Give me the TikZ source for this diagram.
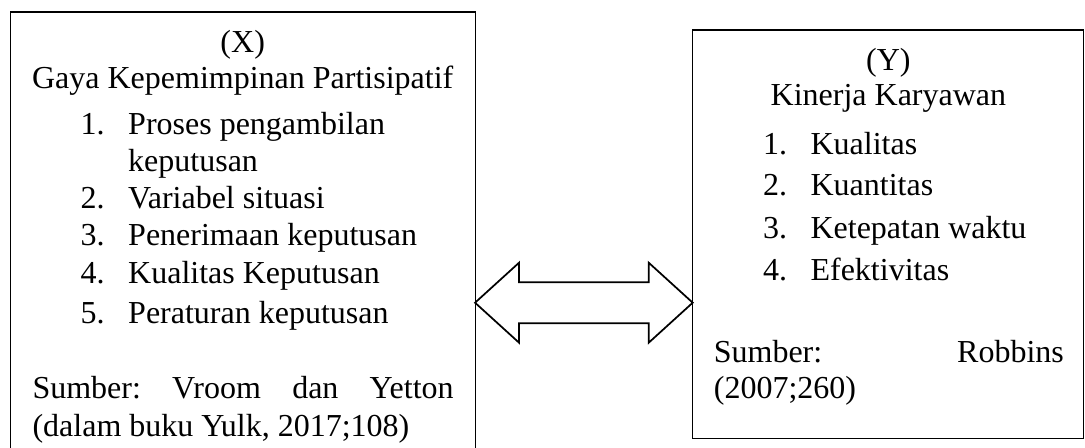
\documentclass[tikz,border=0pt]{standalone}
\usepackage{fontspec}
\setmainfont{Liberation Serif}
\usepackage{xcolor}
\usetikzlibrary{calc}

\tikzset{
    kotak/.style={draw, line width=0.4pt, inner sep=0, outer sep=0, anchor=north west},
    judul/.style={anchor=base, inner sep=0, font=\fontsize{12}{14}\selectfont},
    teks/.style={anchor=base west, inner sep=0, font=\fontsize{12}{14}\selectfont},
    panah/.style={draw, line width=0.65pt, line join=miter, fill=white}
}

\begin{document}
\begin{tikzpicture}[x=0.375pt, y=-0.375pt]
        % Page area
        \clip (0,0) rectangle (1085,448);

        % Draw boxes
        \node[kotak, minimum width=174.2pt, minimum height=172pt] (kotakX) at (10.5,12) {};
        \node[kotak, minimum width=146.7pt, minimum height=153.3pt] (kotakY) at (692.7,30) {};

        % Variable X
        \node[judul] (varX) at (242.7,52.5) {(X)};
        \node[judul] (namaX) at (242.7,88.3) {Gaya Kepemimpinan Partisipatif};
        \foreach \n/\t/\y in {1/Proses pengambilan/135, 2/Variabel situasi/208.3,
                3/Penerimaan keputusan/245, 4/Kualitas Keputusan/283.3, 5/Peraturan keputusan/323.3} {
            \node[teks] (noX\n) at (80,\y) {\n.};
            \node[teks] (indX\n) at (127.7,\y) {\t};
        }
        \node[teks] (indX1b) at (127.7,171.7) {keputusan};
        \node[teks] (sumberX) at (32,398.3) {\makebox[157.9pt][s]{Sumber:\hfill Vroom\hfill dan\hfill Yetton}};
        \node[teks] (sumberX2) at (32,436) {(dalam buku Yulk, 2017;108)};

        % Variable Y
        \node[judul] (varY) at (888.4,70.7) {(Y)};
        \node[judul] (namaY) at (888.4,106) {Kinerja Karyawan};
        \foreach \n/\t/\y in {1/Kualitas/155, 2/Kuantitas/196, 3/Ketepatan waktu/238, 4/Efektivitas/280} {
            \node[teks] (noY\n) at (762.5,\y) {\n.};
            \node[teks] (indY\n) at (810,\y) {\t};
        }
        \node[teks] (sumberY) at (713.3,362) {\makebox[131.25pt][s]{Sumber:\hfill Robbins}};
        \node[teks] (sumberY2) at (713.3,398) {(2007;260)};

        % Double arrow between X and Y
        \coordinate (ujungkiri) at (kotakX.north east |- 0,302.7);
        \coordinate (ujungkanan) at (kotakY.north west |- ujungkiri);
        \draw[panah] (ujungkiri) -- ++(44,-40) -- ++(0,19.5) -- ($(ujungkanan)+(-44,-20.5)$)
            -- ++(0,-19.5) -- (ujungkanan) -- ++(-44,40) -- ++(0,-19.5)
            -- ($(ujungkiri)+(44,20.5)$) -- ++(0,19.5) -- cycle;

    \end{tikzpicture}
\end{document}
